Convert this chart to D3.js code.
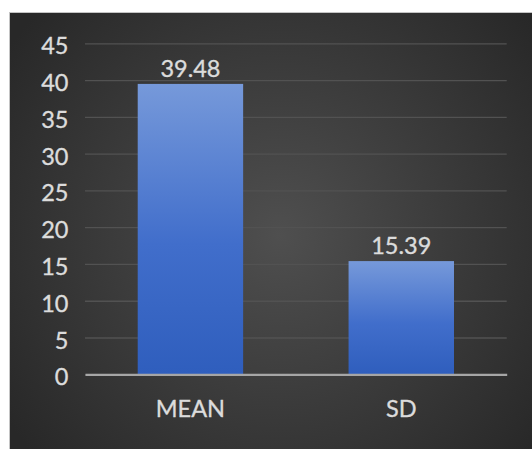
<!DOCTYPE html>
<html>
<head>
<meta charset="utf-8">
<script src="https://cdn.jsdelivr.net/npm/d3@7"></script>
<style>
  html, body { margin: 0; padding: 0; background: #ffffff; }
  svg { display: block; }
</style>
</head>
<body>
<script>
// Summary statistics shown as two bars
const categories = ["MEAN", "SD"];
const values = [39.48, 15.39];
const valueLabels = ["39.48", "15.39"];
const yTicks = [0, 5, 10, 15, 20, 25, 30, 35, 40, 45];

const W = 532, H = 449;
const plot = { left: 85, right: 506.7, top: 43.3, bottom: 374.3 };
const font = "Lato, 'Open Sans', sans-serif";
const textColor = "#dcdcdc";
const fontSize = 23.5;

const svg = d3.select("body").append("svg")
  .attr("width", W).attr("height", H);

const defs = svg.append("defs");

// dark panel with a soft radial highlight in the middle
const bg = defs.append("radialGradient")
  .attr("id", "panelGrad")
  .attr("gradientUnits", "userSpaceOnUse")
  .attr("cx", 280).attr("cy", 235).attr("r", 330);
bg.append("stop").attr("offset", "0%").attr("stop-color", "#4f4f4f");
bg.append("stop").attr("offset", "100%").attr("stop-color", "#282828");

// bar fill: light blue at the top fading to deeper blue
const barGrad = defs.append("linearGradient")
  .attr("id", "barGrad")
  .attr("x1", 0).attr("y1", 0).attr("x2", 0).attr("y2", 1);
barGrad.append("stop").attr("offset", "0%").attr("stop-color", "#7699da");
barGrad.append("stop").attr("offset", "55%").attr("stop-color", "#416ecb");
barGrad.append("stop").attr("offset", "100%").attr("stop-color", "#2f5ebd");

svg.append("rect")
  .attr("x", 9.5).attr("y", 12.5)
  .attr("width", W).attr("height", H)
  .attr("fill", "url(#panelGrad)")
  .attr("stroke", "#c4c4c4").attr("stroke-width", 1);

const x = d3.scaleBand()
  .domain(categories)
  .range([plot.left, plot.right])
  .paddingInner(0.5)
  .paddingOuter(0.25);

const y = d3.scaleLinear()
  .domain([0, 45])
  .range([plot.bottom, plot.top]);

// horizontal gridlines
const grid = svg.append("g")
  .attr("transform", `translate(${plot.left},0)`)
  .call(d3.axisLeft(y).tickValues(yTicks).tickSize(-(plot.right - plot.left)).tickFormat(""));
grid.select(".domain").remove();
grid.selectAll("line").attr("stroke", "#525252").attr("stroke-width", 1.3);

function styleText(sel) {
  sel.attr("font-family", font).attr("font-size", fontSize)
    .attr("fill", textColor)
    .attr("stroke", textColor).attr("stroke-width", 0.35);
}

// y tick labels
const yAxis = svg.append("g")
  .attr("transform", `translate(${plot.left},0)`)
  .call(d3.axisLeft(y).tickValues(yTicks).tickSize(0).tickPadding(16.5));
yAxis.select(".domain").remove();
yAxis.selectAll("text").call(styleText).attr("dy", "0.45em");

// bars
svg.append("g").selectAll("rect")
  .data(categories)
  .join("rect")
  .attr("x", d => x(d))
  .attr("y", (d, i) => y(values[i]))
  .attr("width", x.bandwidth())
  .attr("height", (d, i) => y(0) - y(values[i]))
  .attr("fill", "url(#barGrad)");

// value labels above bars
svg.append("g").selectAll("text")
  .data(categories)
  .join("text")
  .attr("x", d => x(d) + x.bandwidth() / 2)
  .attr("y", (d, i) => y(values[i]) - 7)
  .attr("text-anchor", "middle")
  .call(styleText)
  .text((d, i) => valueLabels[i]);

// category axis with baseline
const xAxis = svg.append("g")
  .attr("transform", `translate(0,${plot.bottom})`)
  .call(d3.axisBottom(x).tickSize(0).tickSizeOuter(0).tickPadding(26));
xAxis.select(".domain").attr("stroke", "#a6a6a6").attr("stroke-width", 2.2);
xAxis.selectAll("text").call(styleText);
</script>
</body>
</html>
